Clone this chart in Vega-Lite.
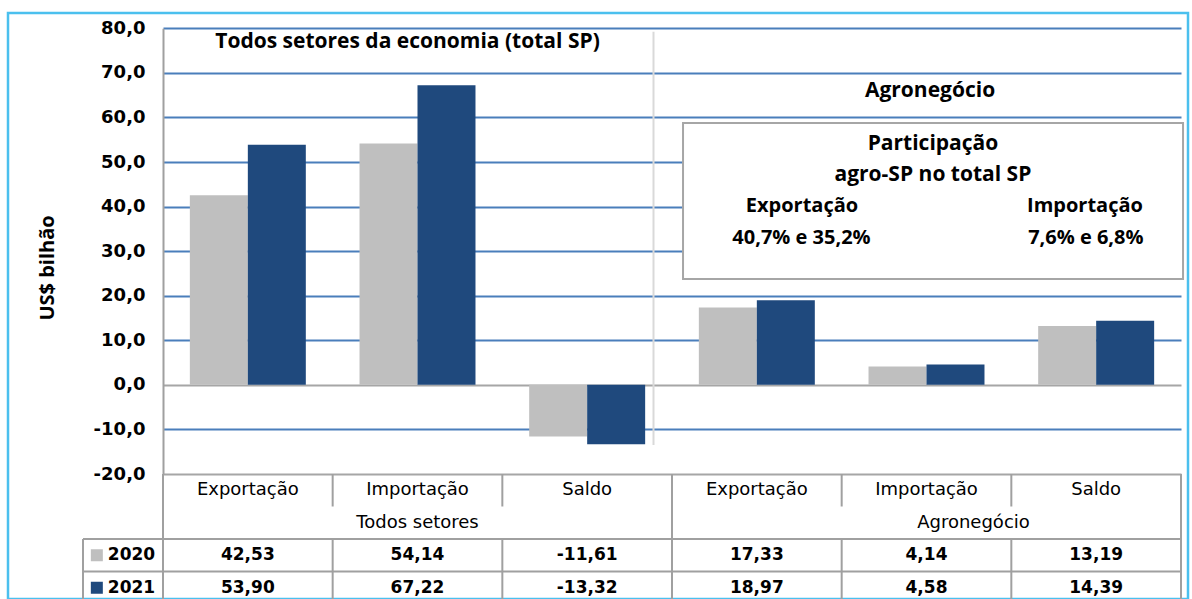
{
  "$schema": "https://vega.github.io/schema/vega-lite/v6.json",
  "autosize": {"type": "none"},
  "padding": {"left": 8, "top": 13, "right": 4, "bottom": 0},
  "width": 1180,
  "height": 586,
  "background": "#ffffff",
  "config": {
    "view": {"stroke": "#4BC0EE", "strokeWidth": 2.5},
    "axisX": {"disable": true},
    "locale": {"number": {"decimal": ",", "thousands": ".", "grouping": [3], "currency": ["", ""], "minus": "-"}}
  },
  "datasets": {
    "comercio": [
      {"setor": "Todos setores", "fluxo": "Exportação", "coluna": "Todos setores – Exportação", "ano": "2020", "valor": 42.53},
      {"setor": "Todos setores", "fluxo": "Exportação", "coluna": "Todos setores – Exportação", "ano": "2021", "valor": 53.90},
      {"setor": "Todos setores", "fluxo": "Importação", "coluna": "Todos setores – Importação", "ano": "2020", "valor": 54.14},
      {"setor": "Todos setores", "fluxo": "Importação", "coluna": "Todos setores – Importação", "ano": "2021", "valor": 67.22},
      {"setor": "Todos setores", "fluxo": "Saldo", "coluna": "Todos setores – Saldo", "ano": "2020", "valor": -11.61},
      {"setor": "Todos setores", "fluxo": "Saldo", "coluna": "Todos setores – Saldo", "ano": "2021", "valor": -13.32},
      {"setor": "Agronegócio", "fluxo": "Exportação", "coluna": "Agronegócio – Exportação", "ano": "2020", "valor": 17.33},
      {"setor": "Agronegócio", "fluxo": "Exportação", "coluna": "Agronegócio – Exportação", "ano": "2021", "valor": 18.97},
      {"setor": "Agronegócio", "fluxo": "Importação", "coluna": "Agronegócio – Importação", "ano": "2020", "valor": 4.14},
      {"setor": "Agronegócio", "fluxo": "Importação", "coluna": "Agronegócio – Importação", "ano": "2021", "valor": 4.58},
      {"setor": "Agronegócio", "fluxo": "Saldo", "coluna": "Agronegócio – Saldo", "ano": "2020", "valor": 13.19},
      {"setor": "Agronegócio", "fluxo": "Saldo", "coluna": "Agronegócio – Saldo", "ano": "2021", "valor": 14.39}
    ]
  },
  "resolve": {"scale": {"x": "independent", "y": "independent"}},
  "layer": [
    {
      "data": {"name": "comercio"},
      "mark": {"type": "bar"},
      "encoding": {
        "x": {"field": "coluna", "type": "nominal", "sort": null,
          "scale": {"domain": ["Todos setores – Exportação", "Todos setores – Importação", "Todos setores – Saldo", "Agronegócio – Exportação", "Agronegócio – Importação", "Agronegócio – Saldo"], "range": [155, 1173], "paddingInner": 0, "paddingOuter": 0},
          "axis": null},
        "xOffset": {"field": "ano", "type": "nominal", "scale": {"domain": ["2020", "2021"], "paddingInner": 0, "paddingOuter": 0.463}},
        "y": {"field": "valor", "type": "quantitative",
          "scale": {"domain": [-20, 80], "range": [461, 15.3], "nice": false, "zero": false},
          "axis": {
            "values": [-20, -10, 0, 10, 20, 30, 40, 50, 60, 70, 80],
            "format": ".1f", "offset": -155, "ticks": false, "labelPadding": 18,
            "labelFont": "DejaVu Sans", "labelFontWeight": "bold", "labelFontSize": 18, "labelColor": "#000000",
            "labelOverlap": false, "labelFlush": false,
            "domainColor": "#A0A0A0", "domainWidth": 2,
            "grid": true, "gridWidth": 2, "gridOpacity": 1,
            "gridColor": {"condition": {"test": "datum.value === 0 || datum.value === -20", "value": "#A6A6A6"}, "value": "#4A7EBB"},
            "title": "US$ bilhão", "titleFont": "Open Sans", "titleFontSize": 20, "titleFontWeight": "bold", "titleColor": "#000000",
            "titleAngle": -90, "titleX": -116, "titleY": 254.5, "titleBaseline": "middle", "titleAlign": "center"
          }},
        "color": {"field": "ano", "type": "nominal", "scale": {"domain": ["2020", "2021"], "range": ["#BFBFBF", "#1F497D"]}, "legend": null}
      }
    },
    {
      "data": {"values": [{}]},
      "layer": [
        {
          "mark": {"type": "rule", "color": "#D9D9D9", "strokeWidth": 2},
          "encoding": {
            "x": {"datum": 2.891, "type": "quantitative", "scale": {"domain": [0, 6], "range": [155, 1173], "nice": false, "zero": false}, "axis": null},
            "y": {"datum": 79.25, "type": "quantitative", "scale": {"domain": [-20, 80], "range": [461, 15.3], "nice": false, "zero": false}, "axis": null},
            "y2": {"datum": -13.48}
          }
        },
        {
          "mark": {"type": "rect", "fill": "#ffffff", "stroke": "#A6A6A6", "strokeWidth": 2},
          "encoding": {
            "x": {"datum": 3.065, "type": "quantitative", "axis": null},
            "x2": {"datum": 6.012},
            "y": {"datum": 58.76, "type": "quantitative", "axis": null},
            "y2": {"datum": 23.76}
          }
        },
        {
          "mark": {"type": "text", "font": "Open Sans", "fontWeight": "bold", "fontSize": 21, "color": "#000000", "align": "center", "baseline": "alphabetic"},
          "encoding": {
            "x": {"datum": 1.441, "type": "quantitative", "axis": null},
            "y": {"datum": 75.52, "type": "quantitative", "axis": null},
            "text": {"value": "Todos setores da economia (total SP)"}
          }
        },
        {
          "mark": {"type": "text", "font": "Open Sans", "fontWeight": "bold", "fontSize": 21, "color": "#000000", "align": "center", "baseline": "alphabetic"},
          "encoding": {
            "x": {"datum": 4.521, "type": "quantitative", "axis": null},
            "y": {"datum": 64.53, "type": "quantitative", "axis": null},
            "text": {"value": "Agronegócio"}
          }
        },
        {
          "mark": {"type": "text", "font": "Open Sans", "fontWeight": "bold", "fontSize": 21, "color": "#000000", "align": "center", "baseline": "alphabetic"},
          "encoding": {
            "x": {"datum": 4.538, "type": "quantitative", "axis": null},
            "y": {"datum": 52.7, "type": "quantitative", "axis": null},
            "text": {"value": "Participação"}
          }
        },
        {
          "mark": {"type": "text", "font": "Open Sans", "fontWeight": "bold", "fontSize": 21, "color": "#000000", "align": "center", "baseline": "alphabetic"},
          "encoding": {
            "x": {"datum": 4.538, "type": "quantitative", "axis": null},
            "y": {"datum": 45.75, "type": "quantitative", "axis": null},
            "text": {"value": "agro-SP no total SP"}
          }
        },
        {
          "mark": {"type": "text", "font": "Open Sans", "fontWeight": "bold", "fontSize": 20, "color": "#000000", "align": "center", "baseline": "alphabetic"},
          "encoding": {
            "x": {"datum": 3.766, "type": "quantitative", "axis": null},
            "y": {"datum": 38.86, "type": "quantitative", "axis": null},
            "text": {"value": "Exportação"}
          }
        },
        {
          "mark": {"type": "text", "font": "Open Sans", "fontWeight": "bold", "fontSize": 20, "color": "#000000", "align": "center", "baseline": "alphabetic"},
          "encoding": {
            "x": {"datum": 5.434, "type": "quantitative", "axis": null},
            "y": {"datum": 38.86, "type": "quantitative", "axis": null},
            "text": {"value": "Importação"}
          }
        },
        {
          "mark": {"type": "text", "font": "Open Sans", "fontWeight": "bold", "fontSize": 20, "color": "#000000", "align": "center", "baseline": "alphabetic"},
          "encoding": {
            "x": {"datum": 3.763, "type": "quantitative", "axis": null},
            "y": {"datum": 31.61, "type": "quantitative", "axis": null},
            "text": {"value": "40,7% e 35,2%"}
          }
        },
        {
          "mark": {"type": "text", "font": "Open Sans", "fontWeight": "bold", "fontSize": 20, "color": "#000000", "align": "center", "baseline": "alphabetic"},
          "encoding": {
            "x": {"datum": 5.439, "type": "quantitative", "axis": null},
            "y": {"datum": 31.61, "type": "quantitative", "axis": null},
            "text": {"value": "7,6% e 6,8%"}
          }
        }
      ]
    },
    {
      "data": {"name": "comercio"},
      "layer": [
        {
          "transform": [{"filter": "datum.ano === '2020'"}],
          "mark": {"type": "text", "font": "DejaVu Sans", "fontSize": 18, "color": "#000000", "align": "center", "baseline": "middle"},
          "encoding": {
            "x": {"field": "coluna", "type": "nominal", "sort": null,
              "scale": {"domain": ["Todos setores – Exportação", "Todos setores – Importação", "Todos setores – Saldo", "Agronegócio – Exportação", "Agronegócio – Importação", "Agronegócio – Saldo"], "range": [155, 1173], "paddingInner": 0, "paddingOuter": 0},
              "axis": null},
            "y": {"datum": "cat", "type": "nominal", "scale": {"domain": ["cat", "grp", "2020", "2021"], "range": [461, 591], "paddingInner": 0, "paddingOuter": 0}, "axis": null},
            "text": {"field": "fluxo", "type": "nominal"}
          }
        },
        {
          "transform": [{"filter": "datum.ano === '2020' && datum.fluxo === 'Importação' && datum.setor === 'Todos setores'"}],
          "mark": {"type": "text", "font": "DejaVu Sans", "fontSize": 18, "color": "#000000", "align": "center", "baseline": "middle"},
          "encoding": {
            "x": {"field": "coluna", "type": "nominal", "axis": null},
            "y": {"datum": "grp", "type": "nominal", "axis": null},
            "text": {"field": "setor", "type": "nominal"}
          }
        },
        {
          "transform": [{"filter": "datum.ano === '2020' && datum.fluxo === 'Importação' && datum.setor === 'Agronegócio'"}],
          "mark": {"type": "text", "font": "DejaVu Sans", "fontSize": 18, "color": "#000000", "align": "center", "baseline": "middle", "dx": 47},
          "encoding": {
            "x": {"field": "coluna", "type": "nominal", "axis": null},
            "y": {"datum": "grp", "type": "nominal", "axis": null},
            "text": {"field": "setor", "type": "nominal"}
          }
        },
        {
          "mark": {"type": "text", "font": "DejaVu Sans", "fontWeight": "bold", "fontSize": 17, "color": "#000000", "align": "center", "baseline": "middle"},
          "encoding": {
            "x": {"field": "coluna", "type": "nominal", "axis": null},
            "y": {"field": "ano", "type": "nominal", "axis": null},
            "text": {"field": "valor", "type": "quantitative", "format": ".2f"}
          }
        },
        {
          "transform": [{"filter": "datum.setor === 'Todos setores' && datum.fluxo === 'Exportação'"}],
          "mark": {"type": "point", "shape": "square", "filled": true, "size": 144, "opacity": 1, "xOffset": -151},
          "encoding": {
            "x": {"field": "coluna", "type": "nominal", "axis": null},
            "y": {"field": "ano", "type": "nominal", "axis": null},
            "color": {"field": "ano", "type": "nominal", "legend": null}
          }
        },
        {
          "transform": [{"filter": "datum.setor === 'Todos setores' && datum.fluxo === 'Exportação'"}],
          "mark": {"type": "text", "font": "DejaVu Sans", "fontWeight": "bold", "fontSize": 17, "color": "#000000", "align": "left", "baseline": "middle", "dx": -140},
          "encoding": {
            "x": {"field": "coluna", "type": "nominal", "axis": null},
            "y": {"field": "ano", "type": "nominal", "axis": null},
            "text": {"field": "ano", "type": "nominal"}
          }
        }
      ]
    },
    {
      "data": {"values": [{}]},
      "layer": [
        {
          "mark": {"type": "rule", "color": "#A0A0A0", "strokeWidth": 2},
          "encoding": {
            "x": {"datum": -0.4715, "type": "quantitative", "scale": {"domain": [0, 6], "range": [155, 1173], "nice": false, "zero": false}, "axis": null},
            "x2": {"datum": 6},
            "y": {"datum": 2, "type": "quantitative", "scale": {"domain": [0, 4], "range": [461, 591], "nice": false, "zero": false}, "axis": null}
          }
        },
        {
          "mark": {"type": "rule", "color": "#A0A0A0", "strokeWidth": 2},
          "encoding": {
            "x": {"datum": -0.4715, "type": "quantitative", "axis": null},
            "x2": {"datum": 6},
            "y": {"datum": 3, "type": "quantitative", "axis": null}
          }
        },
        {
          "mark": {"type": "rule", "color": "#A0A0A0", "strokeWidth": 2},
          "encoding": {
            "x": {"datum": -0.4715, "type": "quantitative", "axis": null},
            "y": {"datum": 2, "type": "quantitative", "axis": null},
            "y2": {"datum": 4}
          }
        },
        {
          "mark": {"type": "rule", "color": "#A0A0A0", "strokeWidth": 2},
          "encoding": {
            "x": {"datum": 0, "type": "quantitative", "axis": null},
            "y": {"datum": 0, "type": "quantitative", "axis": null},
            "y2": {"datum": 4}
          }
        },
        {
          "mark": {"type": "rule", "color": "#A0A0A0", "strokeWidth": 2},
          "encoding": {
            "x": {"datum": 3, "type": "quantitative", "axis": null},
            "y": {"datum": 0, "type": "quantitative", "axis": null},
            "y2": {"datum": 4}
          }
        },
        {
          "mark": {"type": "rule", "color": "#A0A0A0", "strokeWidth": 2},
          "encoding": {
            "x": {"datum": 6, "type": "quantitative", "axis": null},
            "y": {"datum": 0, "type": "quantitative", "axis": null},
            "y2": {"datum": 4}
          }
        },
        {
          "mark": {"type": "rule", "color": "#A0A0A0", "strokeWidth": 2},
          "encoding": {"x": {"datum": 1, "type": "quantitative", "axis": null}, "y": {"datum": 0, "type": "quantitative", "axis": null}, "y2": {"datum": 1}}
        },
        {
          "mark": {"type": "rule", "color": "#A0A0A0", "strokeWidth": 2},
          "encoding": {"x": {"datum": 2, "type": "quantitative", "axis": null}, "y": {"datum": 0, "type": "quantitative", "axis": null}, "y2": {"datum": 1}}
        },
        {
          "mark": {"type": "rule", "color": "#A0A0A0", "strokeWidth": 2},
          "encoding": {"x": {"datum": 4, "type": "quantitative", "axis": null}, "y": {"datum": 0, "type": "quantitative", "axis": null}, "y2": {"datum": 1}}
        },
        {
          "mark": {"type": "rule", "color": "#A0A0A0", "strokeWidth": 2},
          "encoding": {"x": {"datum": 5, "type": "quantitative", "axis": null}, "y": {"datum": 0, "type": "quantitative", "axis": null}, "y2": {"datum": 1}}
        },
        {
          "mark": {"type": "rule", "color": "#A0A0A0", "strokeWidth": 2},
          "encoding": {"x": {"datum": 1, "type": "quantitative", "axis": null}, "y": {"datum": 2, "type": "quantitative", "axis": null}, "y2": {"datum": 4}}
        },
        {
          "mark": {"type": "rule", "color": "#A0A0A0", "strokeWidth": 2},
          "encoding": {"x": {"datum": 2, "type": "quantitative", "axis": null}, "y": {"datum": 2, "type": "quantitative", "axis": null}, "y2": {"datum": 4}}
        },
        {
          "mark": {"type": "rule", "color": "#A0A0A0", "strokeWidth": 2},
          "encoding": {"x": {"datum": 4, "type": "quantitative", "axis": null}, "y": {"datum": 2, "type": "quantitative", "axis": null}, "y2": {"datum": 4}}
        },
        {
          "mark": {"type": "rule", "color": "#A0A0A0", "strokeWidth": 2},
          "encoding": {"x": {"datum": 5, "type": "quantitative", "axis": null}, "y": {"datum": 2, "type": "quantitative", "axis": null}, "y2": {"datum": 4}}
        }
      ]
    }
  ]
}
